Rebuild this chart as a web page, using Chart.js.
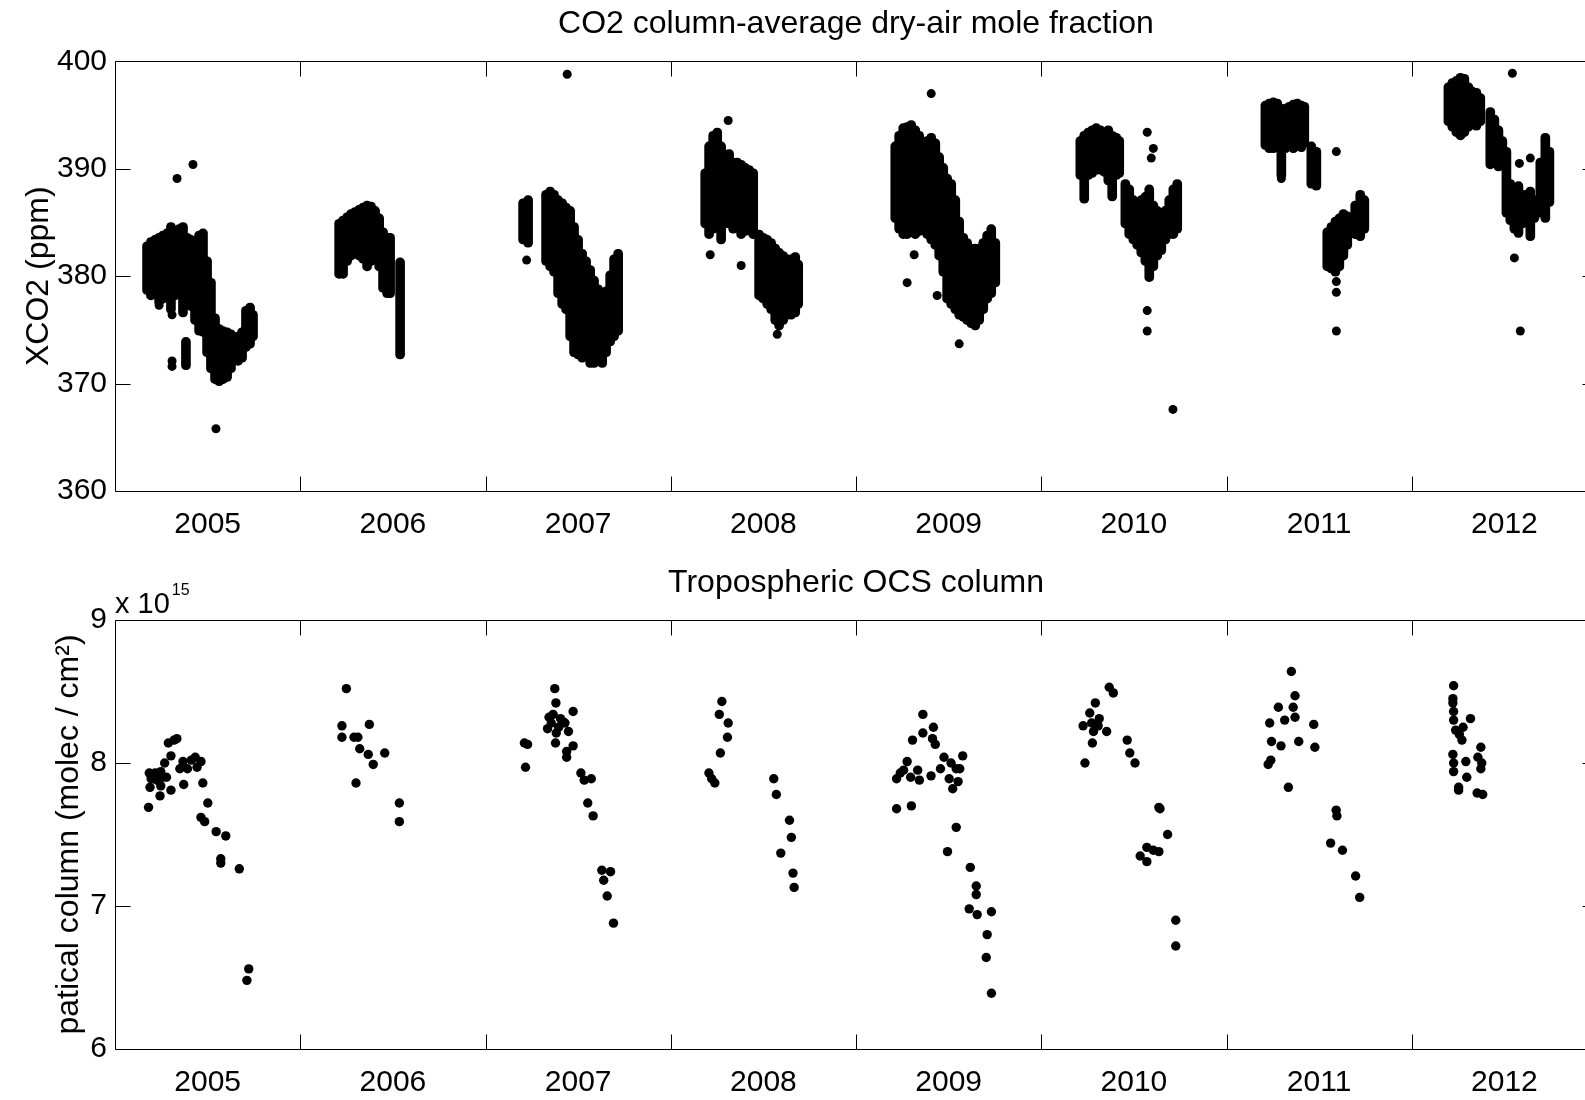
<!DOCTYPE html>
<html>
<head>
<meta charset="utf-8">
<title>XCO2 and tropospheric OCS</title>
<script src="https://cdn.jsdelivr.net/npm/chart.js@4/dist/chart.umd.min.js"></script>
<style>
  body { margin: 0; width: 1585px; height: 1100px; overflow: hidden; background: #fff; }
  canvas { position: absolute; left: 0; }
  #co2Chart { top: 0; }
  #ocsChart { top: 560px; }
</style>
</head>
<body>
<canvas id="co2Chart" width="1640" height="560"></canvas>
<canvas id="ocsChart" width="1640" height="540"></canvas>
<script>
const yearLabels = [2005, 2006, 2007, 2008, 2009, 2010, 2011, 2012];

// XCO2: each measurement day is a vertical run of soundings (low..high ppm)
const co2Dates = [
  2005.173, 2005.194, 2005.216, 2005.238, 2005.259, 2005.281, 2005.302, 2005.324, 2005.346, 2005.367,
  2005.383, 2005.389, 2005.410, 2005.432, 2005.454, 2005.475, 2005.497, 2005.518, 2005.540, 2005.562,
  2005.583, 2005.605, 2005.626, 2005.664, 2005.686, 2005.707, 2005.729, 2005.745,
  2006.210, 2006.231, 2006.253, 2006.274, 2006.296, 2006.318, 2006.339, 2006.361, 2006.382, 2006.404,
  2006.426, 2006.447, 2006.469, 2006.485, 2006.539,
  2007.203, 2007.230, 2007.327, 2007.349, 2007.370, 2007.392, 2007.414, 2007.435, 2007.457, 2007.478,
  2007.500, 2007.522, 2007.543, 2007.565, 2007.586, 2007.608, 2007.630, 2007.651, 2007.673, 2007.694,
  2007.716,
  2008.186, 2008.207, 2008.229, 2008.251, 2008.272, 2008.294, 2008.315, 2008.337, 2008.359, 2008.380,
  2008.402, 2008.423, 2008.445, 2008.477, 2008.499, 2008.521, 2008.542, 2008.564, 2008.585, 2008.607,
  2008.629, 2008.650, 2008.672, 2008.688,
  2009.212, 2009.233, 2009.255, 2009.276, 2009.298, 2009.320, 2009.341, 2009.363, 2009.384, 2009.406,
  2009.428, 2009.449, 2009.471, 2009.492, 2009.514, 2009.536, 2009.557, 2009.579, 2009.600, 2009.622,
  2009.644, 2009.665, 2009.687, 2009.708, 2009.730, 2009.752,
  2010.211, 2010.232, 2010.254, 2010.275, 2010.297, 2010.319, 2010.340, 2010.362, 2010.383, 2010.405,
  2010.421, 2010.454, 2010.475, 2010.497, 2010.518, 2010.540, 2010.562, 2010.583, 2010.605, 2010.626,
  2010.648, 2010.670, 2010.691, 2010.713, 2010.734,
  2011.210, 2011.231, 2011.253, 2011.274, 2011.296, 2011.318, 2011.339, 2011.361, 2011.382, 2011.404,
  2011.420, 2011.458, 2011.485, 2011.544, 2011.566, 2011.588, 2011.609, 2011.631, 2011.652, 2011.695,
  2011.722, 2011.744,
  2012.198, 2012.219, 2012.241, 2012.263, 2012.284, 2012.306, 2012.327, 2012.349, 2012.370, 2012.424,
  2012.446, 2012.468, 2012.489, 2012.511, 2012.532, 2012.554, 2012.576, 2012.597, 2012.619, 2012.640,
  2012.662, 2012.694, 2012.721, 2012.743
];
const co2Low = [
  378.3, 377.8, 378.0, 377.2, 377.5, 378.0, 376.5, 377.8, 378.0, 376.2,
  371.3, 377.0, 376.8, 375.5, 374.5, 374.4, 372.5, 371.0, 370.0, 369.8,
  370.0, 370.2, 371.0, 371.7, 372.0, 373.0, 373.3, 374.0,
  379.8, 379.8, 381.0, 381.5, 382.0, 381.5, 381.2, 380.5, 381.0, 381.5,
  380.5, 378.5, 378.0, 378.0, 372.3,
  383.0, 382.7, 381.0, 380.5, 380.0, 378.0, 377.0, 376.5, 374.0, 372.5,
  372.3, 372.0, 372.2, 371.5, 371.5, 372.0, 371.5, 372.5, 373.5, 374.0,
  374.5,
  384.5, 383.5, 384.0, 384.5, 383.0, 384.5, 384.5, 384.0, 384.5, 383.5,
  383.8, 384.0, 383.5, 377.8, 377.5, 377.0, 376.5, 375.5, 375.0, 375.5,
  376.0, 376.0, 376.2, 377.0,
  385.0, 384.0, 383.5, 383.5, 384.0, 383.5, 383.8, 384.0, 383.5, 383.0,
  382.5, 381.5, 380.0, 377.5, 377.0, 376.5, 376.0, 375.8, 375.5, 375.2,
  375.0, 375.5, 376.5, 377.5, 378.0, 379.0,
  389.0, 386.8, 389.0, 389.2, 389.5, 389.5, 389.3, 388.5, 387.0, 389.0,
  389.2, 384.5, 383.5, 383.0, 382.5, 381.8, 381.0, 379.5, 380.5, 381.5,
  382.0, 383.0, 383.5, 383.5, 384.0,
  391.8, 391.5, 391.5, 391.8, 389.0, 391.5, 391.8, 391.5, 391.8, 391.6,
  392.0, 388.2, 388.0, 380.5, 380.3, 380.0, 380.5, 381.5, 382.5, 383.5,
  383.3, 384.0,
  394.0, 393.5, 393.0, 392.7, 393.0, 393.5, 393.8, 393.6, 394.0, 390.0,
  390.2, 389.8, 390.0, 385.5, 384.8, 384.0, 383.6, 384.5, 384.8, 383.3,
  385.0, 385.5, 385.0, 386.5
];
const co2High = [
  383.2, 383.6, 383.8, 384.0, 384.2, 384.4, 385.0, 384.6, 384.8, 385.0,
  374.3, 384.0, 383.8, 383.6, 384.2, 384.4, 381.8, 379.8, 376.5, 375.5,
  375.3, 375.2, 375.0, 374.8, 375.2, 377.2, 377.5, 376.8,
  385.3, 385.6, 385.9, 386.2, 386.4, 386.6, 386.8, 387.0, 386.9, 386.5,
  385.8, 384.5, 384.0, 384.0, 381.7,
  387.2, 387.5, 388.0, 388.3, 388.0, 387.5, 387.2, 386.8, 386.5, 385.0,
  383.8, 382.5, 381.8, 381.0, 380.0, 379.2, 378.8, 379.0, 380.5, 382.0,
  382.5,
  390.0, 392.5, 393.5, 393.8, 392.5, 391.5, 391.8, 391.0, 391.0, 390.8,
  390.5, 390.3, 390.0, 384.3, 384.0, 383.8, 383.5, 383.0, 382.6, 382.3,
  382.0, 382.0, 382.2, 381.5,
  392.5, 393.5, 394.2, 394.3, 394.5, 394.0, 393.5, 392.8, 393.0, 393.3,
  392.8, 391.5, 390.5, 389.5, 389.0, 387.5, 385.5, 384.0, 383.5, 383.0,
  383.0, 383.0, 383.5, 384.2, 384.8, 383.5,
  393.0, 393.5, 393.8, 394.0, 394.2, 394.0, 393.8, 394.0, 393.5, 393.3,
  393.0, 389.0, 388.5, 387.5, 387.0, 387.5, 387.8, 388.5, 387.0, 386.5,
  386.0, 386.5, 387.5, 388.5, 389.0,
  396.3, 396.5, 396.6, 396.5, 396.0, 396.0, 396.2, 396.4, 396.5, 396.3,
  396.2, 392.5, 392.0, 384.5, 385.0, 385.5, 385.8, 386.2, 386.0, 387.0,
  388.0, 387.5,
  398.0, 398.4, 398.6, 398.9, 398.8, 398.0, 397.6, 397.5, 397.0, 395.7,
  395.0, 394.0, 393.0, 392.0, 389.0, 388.5, 388.8, 388.0, 388.0, 388.3,
  387.5, 391.0, 393.3, 392.0
];

// isolated XCO2 soundings
const co2PointDates = [
  2005.335, 2005.421, 2005.545, 2005.308, 2005.308, 2005.238, 2005.308,
  2007.222, 2007.441, 2007.446,
  2008.310, 2008.213, 2008.380, 2008.575,
  2009.406, 2009.276, 2009.438, 2009.557, 2009.314,
  2010.572, 2010.605, 2010.594, 2010.572, 2010.572, 2010.711,
  2011.296, 2011.593, 2011.593, 2011.593, 2011.593,
  2012.543, 2012.554, 2012.586, 2012.581, 2012.640
];
const co2PointValues = [
  389.1, 390.4, 365.8, 372.1, 371.6, 377.3, 376.4,
  381.5, 398.8, 377.0,
  394.5, 382.0, 381.0, 374.6,
  397.0, 379.4, 378.2, 373.7, 382.0,
  393.4, 391.9, 391.0, 376.8, 374.9, 367.6,
  389.1, 391.6, 379.5, 378.5, 374.9,
  398.9, 381.7, 374.9, 390.5, 391.0
];

// tropospheric OCS partial column, units of 1e15 molec/cm2
const ocsDates = [
  2005.181, 2005.185, 2005.195, 2005.216, 2005.226, 2005.247, 2005.257, 2005.268, 2005.278, 2005.189,
  2005.247, 2005.243, 2005.302, 2005.302, 2005.288, 2005.319, 2005.334, 2005.371, 2005.350, 2005.367,
  2005.391, 2005.412, 2005.433, 2005.443, 2005.464, 2005.474, 2005.501, 2005.464, 2005.484, 2005.546,
  2005.598, 2005.571, 2005.571, 2005.671, 2005.722, 2005.712,
  2006.249, 2006.225, 2006.225, 2006.290, 2006.311, 2006.373, 2006.321, 2006.367, 2006.394, 2006.456,
  2006.301, 2006.535, 2006.535,
  2007.210, 2007.227, 2007.216, 2007.374, 2007.380, 2007.365, 2007.343, 2007.335, 2007.382, 2007.417,
  2007.429, 2007.448, 2007.473, 2007.378, 2007.473, 2007.438, 2007.438, 2007.515, 2007.533, 2007.571,
  2007.552, 2007.581, 2007.628, 2007.675, 2007.638, 2007.657, 2007.691, 2007.355, 2007.395, 2007.405,
  2008.276, 2008.262, 2008.310, 2008.306, 2008.268, 2008.206, 2008.238, 2008.221, 2008.556, 2008.570,
  2008.641, 2008.651, 2008.594, 2008.660, 2008.666,
  2009.219, 2009.299, 2009.239, 2009.219, 2009.276, 2009.257, 2009.295, 2009.333, 2009.342, 2009.305,
  2009.361, 2009.361, 2009.418, 2009.413, 2009.428, 2009.405, 2009.456, 2009.475, 2009.513, 2009.541,
  2009.576, 2009.560, 2009.503, 2009.551, 2009.522, 2009.541, 2009.494, 2009.617, 2009.649, 2009.649,
  2009.611, 2009.654, 2009.731, 2009.708, 2009.703, 2009.731,
  2010.367, 2010.389, 2010.292, 2010.262, 2010.313, 2010.226, 2010.272, 2010.307, 2010.282, 2010.353,
  2010.276, 2010.236, 2010.464, 2010.478, 2010.506, 2010.635, 2010.641, 2010.682, 2010.534, 2010.570,
  2010.570, 2010.635, 2010.605, 2010.726, 2010.726,
  2011.350, 2011.370, 2011.280, 2011.360, 2011.233, 2011.314, 2011.370, 2011.471, 2011.243, 2011.294,
  2011.390, 2011.477, 2011.239, 2011.225, 2011.334, 2011.592, 2011.596, 2011.562, 2011.626, 2011.697,
  2011.719,
  2012.226, 2012.222, 2012.222, 2012.226, 2012.226, 2012.237, 2012.257, 2012.277, 2012.271, 2012.317,
  2012.222, 2012.226, 2012.226, 2012.292, 2012.297, 2012.253, 2012.253, 2012.373, 2012.357, 2012.378,
  2012.373, 2012.353, 2012.383
];
const ocsValues = [
  7.69, 7.93, 7.89, 7.93, 7.88, 7.94, 7.90, 8.00, 7.90, 7.83,
  7.84, 7.77, 7.81, 8.05, 8.14, 8.16, 8.17, 7.85, 7.96, 8.01,
  7.96, 8.02, 8.04, 7.97, 8.01, 7.86, 7.72, 7.62, 7.59, 7.52,
  7.49, 7.33, 7.30, 7.26, 6.56, 6.48,
  8.52, 8.26, 8.18, 8.18, 8.18, 8.27, 8.10, 8.06, 7.99, 8.07,
  7.86, 7.72, 7.59,
  8.14, 8.13, 7.97, 8.52, 8.42, 8.34, 8.32, 8.24, 8.21, 8.29,
  8.28, 8.22, 8.36, 8.14, 8.12, 8.08, 8.04, 7.93, 7.88, 7.89,
  7.72, 7.63, 7.25, 7.24, 7.18, 7.07, 6.88, 8.28, 8.25, 8.31,
  8.43, 8.34, 8.28, 8.18, 8.07, 7.93, 7.86, 7.89, 7.89, 7.78,
  7.60, 7.48, 7.37, 7.23, 7.13,
  7.68, 7.70, 7.93, 7.89, 8.01, 7.95, 7.90, 7.95, 7.88, 8.16,
  8.21, 8.34, 8.25, 8.17, 8.13, 7.91, 7.96, 8.04, 8.00, 7.96,
  8.05, 7.96, 7.89, 7.87, 7.82, 7.55, 7.38, 7.27, 7.14, 7.08,
  6.98, 6.94, 6.96, 6.80, 6.64, 6.39,
  8.53, 8.49, 8.42, 8.35, 8.31, 8.26, 8.28, 8.26, 8.22, 8.22,
  8.14, 8.00, 8.16, 8.07, 8.00, 7.69, 7.68, 7.50, 7.35, 7.41,
  7.31, 7.38, 7.39, 6.90, 6.72,
  8.64, 8.47, 8.39, 8.39, 8.28, 8.30, 8.32, 8.27, 8.15, 8.12,
  8.15, 8.11, 8.02, 7.99, 7.83, 7.67, 7.63, 7.44, 7.39, 7.21,
  7.06,
  8.54, 8.45, 8.42, 8.36, 8.30, 8.23, 8.20, 8.25, 8.16, 8.31,
  8.06, 8.00, 7.94, 8.01, 7.90, 7.81, 7.83, 8.11, 8.04, 8.00,
  7.96, 7.79, 7.78
];

const tickLen = 15;
Chart.defaults.font.family = '"Liberation Sans", Arial, Helvetica, sans-serif';
Chart.defaults.color = '#000';

// MATLAB style box: frame on all four sides, ticks pointing inward
const boxPlugin = {
  id: 'box',
  afterDraw(chart, args, opts) {
    const ctx = chart.ctx;
    const a = chart.chartArea;
    const xs = chart.scales.x, ys = chart.scales.y;
    const left = Math.round(a.left) + 0.5, right = Math.round(a.right) + 0.5;
    const top = Math.round(a.top) + 0.5, bottom = Math.round(a.bottom) + 0.5;
    ctx.save();
    ctx.strokeStyle = '#000';
    ctx.lineWidth = 1;
    ctx.beginPath();
    ctx.rect(left, top, right - left, bottom - top);
    yearLabels.slice(1).forEach(function (yr) {
      const px = Math.round(xs.getPixelForValue(yr)) + 0.5;
      ctx.moveTo(px, bottom); ctx.lineTo(px, bottom - tickLen);
      ctx.moveTo(px, top); ctx.lineTo(px, top + tickLen);
    });
    ys.ticks.forEach(function (t) {
      const py = Math.round(ys.getPixelForValue(t.value)) + 0.5;
      ctx.moveTo(left, py); ctx.lineTo(left + tickLen, py);
      ctx.moveTo(right, py); ctx.lineTo(right - tickLen, py);
    });
    ctx.stroke();
    if (opts.exponent) {
      ctx.fillStyle = '#000';
      ctx.textBaseline = 'alphabetic';
      ctx.font = '29px "Liberation Sans", Arial, sans-serif';
      ctx.fillText('x 10', a.left, a.top - 7);
      const w = ctx.measureText('x 10').width;
      ctx.font = '16px "Liberation Sans", Arial, sans-serif';
      ctx.fillText(opts.exponent, a.left + w + 2, a.top - 25);
    }
    ctx.restore();
  }
};

function makeOptions(title, titlePad, yTitle, yTitlePad, yMin, yMax, yStep, xHeight, exponent) {
  return {
    responsive: false,
    animation: false,
    events: [],
    layout: { padding: { left: 0, right: 43, top: 0, bottom: 0 } },
    plugins: {
      legend: { display: false },
      tooltip: { enabled: false },
      title: {
        display: true,
        text: title,
        fullSize: false,
        color: '#000',
        font: { size: 32, weight: 'normal' },
        padding: titlePad
      },
      box: { exponent: exponent }
    },
    scales: {
      x: {
        type: 'linear',
        min: 2005,
        max: 2013,
        offset: false,
        grid: { display: false, drawTicks: false },
        border: { display: false },
        afterBuildTicks: function (scale) {
          scale.ticks = yearLabels.map(function (yr) { return { value: yr + 0.5 }; });
        },
        ticks: {
          autoSkip: false,
          maxRotation: 0,
          minRotation: 0,
          padding: 16,
          font: { size: 30 },
          callback: function (value, index) { return String(yearLabels[index]); }
        },
        afterFit: function (scale) { scale.height = xHeight; }
      },
      y: {
        type: 'linear',
        min: yMin,
        max: yMax,
        grid: { display: false, drawTicks: false },
        border: { display: false },
        ticks: { stepSize: yStep, padding: 8, font: { size: 30 } },
        title: {
          display: true,
          text: yTitle,
          color: '#000',
          font: { size: 32 },
          padding: { top: yTitlePad, bottom: 0 }
        },
        afterFit: function (scale) { scale.width = 115; }
      }
    }
  };
}

const co2Runs = co2Dates.map(function (d, i) { return { x: d, y: [co2Low[i], co2High[i]] }; });
const co2Points = co2PointDates.map(function (d, i) { return { x: d, y: co2PointValues[i] }; });
const ocsPoints = ocsDates.map(function (d, i) { return { x: d, y: ocsValues[i] }; });

const co2Chart = new Chart(document.getElementById('co2Chart'), {
  type: 'bar',
  data: {
    datasets: [
      {
        type: 'bar',
        data: co2Runs,
        backgroundColor: '#000',
        barThickness: 9,
        borderRadius: 4.5,
        borderSkipped: false,
        grouped: false
      },
      {
        type: 'scatter',
        data: co2Points,
        backgroundColor: '#000',
        borderWidth: 0,
        pointRadius: 4.5
      }
    ]
  },
  options: makeOptions('CO2 column-average dry-air mole fraction', { top: 5, bottom: 18 },
    'XCO2 (ppm)', 20, 360, 400, 10, 69, null),
  plugins: [boxPlugin]
});

const ocsChart = new Chart(document.getElementById('ocsChart'), {
  type: 'scatter',
  data: {
    datasets: [{
      data: ocsPoints,
      backgroundColor: '#000',
      borderWidth: 0,
      pointRadius: 4.7
    }]
  },
  options: makeOptions('Tropospheric OCS column', { top: 4, bottom: 17.6 },
    'patical column (molec / cm\u00B2)', 50, 6, 9, 1, 51, '15'),
  plugins: [boxPlugin]
});
</script>
</body>
</html>
